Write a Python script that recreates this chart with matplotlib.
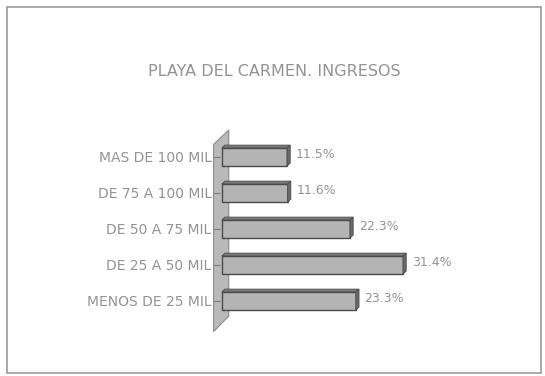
import matplotlib
matplotlib.use("Agg")
import matplotlib.pyplot as plt
from matplotlib.patches import Polygon, Rectangle

plt.rcParams.update({"font.family": "DejaVu Sans"})

categorias = ["MENOS DE 25 MIL", "DE 25 A 50 MIL", "DE 50 A 75 MIL",
              "DE 75 A 100 MIL", "MAS DE 100 MIL"]
porcentajes = [23.3, 31.4, 22.3, 11.6, 11.5]
etiquetas = ["23.3%", "31.4%", "22.3%", "11.6%", "11.5%"]

TXT = "#939393"
BAR = "#b4b4b4"
EDGE = "#4a4a4a"

fig = plt.figure(figsize=(5.45, 3.76), dpi=100)
# outer frame
fig.patches.append(Rectangle((7/545, 3/376), 534/545, 366/376, transform=fig.transFigure,
                             fill=False, ec="#9a9a9a", lw=1.2))
fig.text(0.504, 1 - 72/376, "PLAYA DEL CARMEN. INGRESOS", ha="center", va="center",
         fontsize=11.5, color=TXT)

ax = fig.add_axes([220/545, 57/376, 204/545, 180/376])
ax.set_xlim(0, 35)
ax.set_ylim(-0.5, 4.5)
for s in ax.spines.values():
    s.set_visible(False)
ax.set_xticks([])

# back wall behind the bars
wall = Polygon([(-1.1, -0.85), (1.5, -0.42), (1.5, 4.75), (-1.1, 4.35)],
               closed=True, fc="#b9b9b9", ec="#8a8a8a", lw=0.8, clip_on=False, zorder=1)
ax.add_patch(wall)

h = 0.5
dx, dy = 0.55, 0.08
for i, v in enumerate(porcentajes):
    # top and side faces for depth
    top = Polygon([(0.3, i + h/2), (v, i + h/2), (v + dx, i + h/2 + dy), (0.3 + dx, i + h/2 + dy)],
                  closed=True, fc="#7a7a7a", ec=EDGE, lw=0.6, clip_on=False, zorder=3)
    side = Polygon([(v, i - h/2), (v + dx, i - h/2 + dy), (v + dx, i + h/2 + dy), (v, i + h/2)],
                   closed=True, fc="#6a6a6a", ec=EDGE, lw=0.6, clip_on=False, zorder=3)
    ax.add_patch(top)
    ax.add_patch(side)
ax.barh(range(len(porcentajes)), [v - 0.3 for v in porcentajes], left=0.3, height=h,
        color=BAR, edgecolor=EDGE, lw=1.0, zorder=2)

for i, (v, t) in enumerate(zip(porcentajes, etiquetas)):
    ax.text(v + 1.5, i + 0.08, t, va="center", ha="left", fontsize=9, color=TXT)

ax.set_yticks(range(len(categorias)))
ax.set_yticklabels(categorias, fontsize=10, color=TXT)
ax.tick_params(axis="y", length=4, color="#7a7a7a", pad=2)

fig.savefig("out.png", dpi=100)
